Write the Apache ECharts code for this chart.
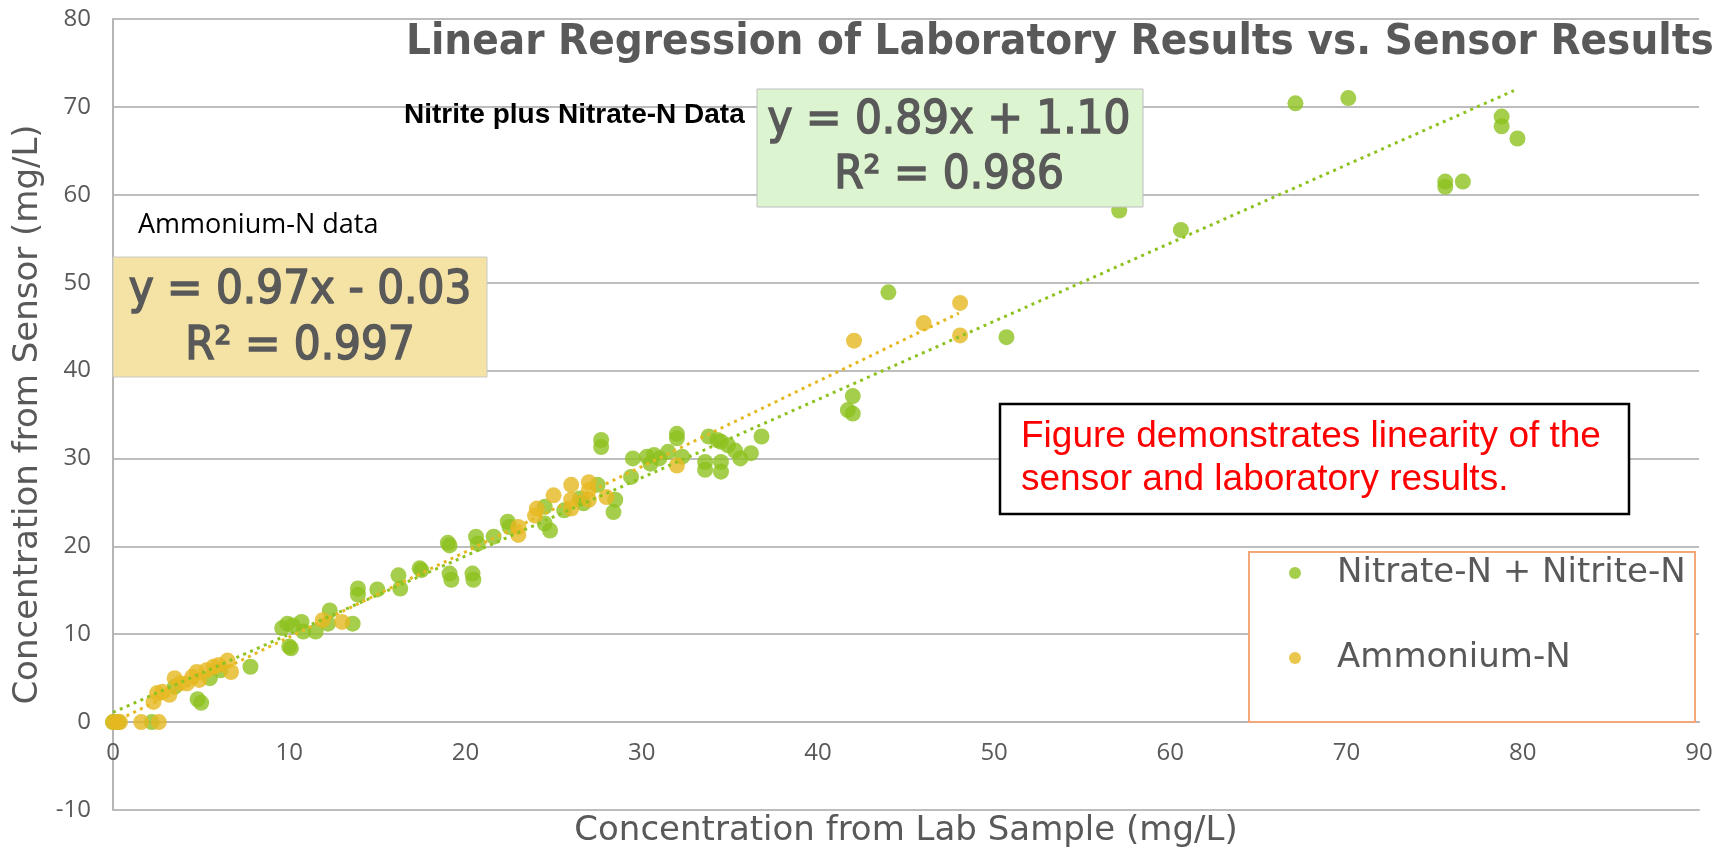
<!DOCTYPE html>
<html>
<head>
<meta charset="utf-8">
<script src="https://cdn.jsdelivr.net/npm/echarts/dist/echarts.min.js"></script>
<style>
html,body{margin:0;padding:0;background:#ffffff;}
#chart{width:1733px;height:855px;}
</style>
</head>
<body>
<div id="chart"></div>
<script>
// ---- data ----
const seriesNames = ['Nitrate-N + Nitrite-N', 'Ammonium-N'];
const xTickValues = [0, 10, 20, 30, 40, 50, 60, 70, 80, 90];
const yTickValues = [-10, 0, 10, 20, 30, 40, 50, 60, 70, 80];

const nitratePoints = [
  [0, 0], [0.3, 0], [2.2, 0],
  [4.8, 2.6], [5.0, 2.2], [3.5, 4.0], [5.5, 5.0], [6.1, 5.9], [7.8, 6.3],
  [9.6, 10.7], [9.9, 11.2], [10.2, 11.0], [10.7, 11.4], [10.8, 10.3], [11.5, 10.3],
  [10.0, 8.6], [10.1, 8.4], [12.3, 12.7], [12.2, 11.2], [13.6, 11.2],
  [13.9, 15.2], [13.9, 14.5], [15.0, 15.1], [16.2, 16.7], [16.3, 15.2], [17.4, 17.5], [17.5, 17.3],
  [19.0, 20.4], [19.1, 20.1], [19.1, 16.9], [19.2, 16.2], [20.4, 16.9], [20.45, 16.2],
  [20.6, 21.1], [20.7, 20.3], [21.6, 21.1],
  [22.4, 22.8], [22.5, 22.2], [24.5, 24.5], [24.5, 22.6], [24.8, 21.8], [25.6, 24.1],
  [26.5, 25.45], [26.7, 24.9], [27.5, 27.0], [28.5, 25.3], [28.4, 23.9],
  [27.7, 32.1], [27.7, 31.3], [29.5, 30.0], [29.4, 27.9], [30.3, 30.2], [30.7, 30.4], [30.5, 29.4],
  [31.0, 30.0], [31.5, 30.75], [32.0, 32.8], [32.0, 32.3], [32.3, 30.2],
  [33.6, 29.6], [33.6, 28.7], [33.8, 32.5], [34.3, 32.1], [34.5, 31.9], [34.5, 29.6], [34.5, 28.5],
  [34.9, 31.5], [35.3, 30.9], [35.6, 30.0], [36.2, 30.6], [36.8, 32.5],
  [41.7, 35.5], [41.98, 35.1], [41.98, 37.1], [44.0, 48.9], [50.7, 43.8],
  [57.1, 58.2], [60.6, 56.0], [67.1, 70.4], [70.1, 71.0],
  [75.6, 61.5], [75.6, 60.9], [76.6, 61.5], [78.8, 68.9], [78.8, 67.8], [79.7, 66.4]
];

const ammoniumPoints = [
  [0, 0], [0.2, 0], [0.4, 0], [1.6, 0], [2.6, 0],
  [2.3, 2.3], [2.5, 3.3], [2.8, 3.45], [3.2, 3.1], [3.5, 5.0], [3.8, 4.4], [4.2, 4.4],
  [4.5, 5.15], [4.75, 5.7], [4.9, 4.8], [5.3, 5.9], [5.7, 6.3], [6.0, 6.5], [6.5, 7.0], [6.7, 5.7],
  [11.9, 11.6], [13.0, 11.4],
  [23.0, 22.2], [23.0, 21.3], [24.05, 24.3], [23.95, 23.5], [25.0, 25.8],
  [26.0, 27.0], [26.0, 25.3], [26.0, 24.3], [27.0, 27.3], [27.0, 26.4], [27.0, 25.3], [28.0, 25.6],
  [32.0, 29.2],
  [42.05, 43.4], [46.0, 45.4], [48.07, 47.7], [48.07, 44.0]
];

// trendline end points as drawn in the picture
const nitrateTrend = [[0, 1.10], [79.5, 71.86]];
const ammoniumTrend = [[0, -0.03], [48, 46.53]];

const nitrateLabel = ['y = 0.89x + 1.10', 'R\u00B2 = 0.986'];
const ammoniumLabel = ['y = 0.97x - 0.03', 'R\u00B2 = 0.997'];

// ---- chart ----
const GREEN = '#8dc21f';
const YELLOW = '#e6b820';
const GREY_TEXT = '#595959';
const GRID_COL = '#bdbdbd';
const AXIS_COL = '#b5b5b5';
const COND = '"DejaVu Sans Condensed", "DejaVu Sans", sans-serif';

const GRID_TOP = 19, GRID_BOTTOM = 45, CHART_H = 855;
// x axis crosses the y axis at 0 (one interval above the bottom of the plot)
const xAxisOffset = -(CHART_H - GRID_TOP - GRID_BOTTOM) / (yTickValues.length - 1);

const chart = echarts.init(document.getElementById('chart'), null, {renderer: 'canvas'});

const eqFont = '47px ' + COND;
const eqStroke = 1.5;

const option = {
  backgroundColor: '#ffffff',
  animation: false,
  title: {
    text: 'Linear Regression of Laboratory Results vs. Sensor Results',
    left: 406, top: 18, padding: 0,
    textStyle: {fontFamily: COND, fontWeight: 'bold', fontSize: 43.5, color: GREY_TEXT, lineHeight: 50}
  },
  grid: {left: 113, right: 34, top: GRID_TOP, bottom: GRID_BOTTOM, containLabel: false, outerBoundsMode: 'none'},
  legend: {
    orient: 'vertical',
    left: 1289, top: 553,
    z: 10,
    data: seriesNames,
    icon: 'circle',
    itemWidth: 12, itemHeight: 12,
    itemGap: 45,
    padding: 0,
    textStyle: {fontFamily: '"DejaVu Sans", sans-serif', fontSize: 34, color: GREY_TEXT, lineHeight: 40, padding: [0, 0, 0, 31]}
  },
  xAxis: [
    {
      type: 'value', min: 0, max: 90, interval: 10,
      offset: xAxisOffset,
      name: 'Concentration from Lab Sample (mg/L)',
      nameLocation: 'middle', nameGap: 92,
      nameTextStyle: {fontFamily: '"DejaVu Sans", sans-serif', fontSize: 34, color: GREY_TEXT},
      axisLine: {show: true, onZero: false, lineStyle: {color: AXIS_COL, width: 2}},
      axisTick: {show: false},
      splitLine: {show: false},
      axisLabel: {
        margin: 19, fontFamily: '"Open Sans", sans-serif', fontSize: 24, color: GREY_TEXT,
        formatter: v => (xTickValues.indexOf(v) >= 0 ? String(v) : '')
      }
    },
    {
      // bottom border of the plot (gridline at y = -10)
      type: 'value', min: 0, max: 90, interval: 10, position: 'bottom',
      axisLine: {show: true, onZero: false, lineStyle: {color: GRID_COL, width: 2}},
      axisTick: {show: false}, axisLabel: {show: false}, splitLine: {show: false}
    }
  ],
  yAxis: {
    type: 'value', min: -10, max: 80, interval: 10,
    name: 'Concentration from Sensor (mg/L)',
    nameLocation: 'middle', nameGap: 66, nameRotate: 90,
    nameTextStyle: {fontFamily: '"DejaVu Sans", sans-serif', fontSize: 34, color: GREY_TEXT},
    axisLine: {show: true, onZero: false, lineStyle: {color: AXIS_COL, width: 2}},
    axisTick: {show: false},
    splitLine: {show: true, showMinLine: true, showMaxLine: true, lineStyle: {color: GRID_COL, width: 2}},
    axisLabel: {
      margin: 22, fontFamily: '"Open Sans", sans-serif', fontSize: 24, color: GREY_TEXT,
      formatter: v => (yTickValues.indexOf(v) >= 0 ? String(v) : '')
    }
  },
  series: [
    {
      name: seriesNames[0], type: 'scatter', data: nitratePoints,
      symbol: 'circle', symbolSize: 16, itemStyle: {color: GREEN}, z: 2
    },
    {
      name: seriesNames[1], type: 'scatter', data: ammoniumPoints,
      symbol: 'circle', symbolSize: 16, itemStyle: {color: YELLOW}, z: 2
    },
    {
      name: 'Nitrate trend', type: 'line', data: nitrateTrend, showSymbol: false, symbol: 'none',
      lineStyle: {color: GREEN, width: 3, type: [3, 4.5]}, z: 5, silent: true
    },
    {
      name: 'Ammonium trend', type: 'line', data: ammoniumTrend, showSymbol: false, symbol: 'none',
      lineStyle: {color: YELLOW, width: 3, type: [3, 4.5]}, z: 5, silent: true
    }
  ],
  graphic: [
    // annotation labels
    {type: 'text', z: 100, x: 404, y: 115,
      style: {text: 'Nitrite plus Nitrate-N Data', font: 'bold 28px "Liberation Sans", Arial, sans-serif', fill: '#000000', align: 'left', verticalAlign: 'middle'}},
    {type: 'text', z: 100, x: 138, y: 225,
      style: {text: 'Ammonium-N data', font: '27px "Open Sans", sans-serif', fill: '#000000', align: 'left', verticalAlign: 'middle'}},
    // green equation box
    {type: 'rect', z: 100, shape: {x: 757, y: 89, width: 386, height: 118},
      style: {fill: '#dcf4d0', stroke: '#bfbfbf', lineWidth: 1}},
    {type: 'text', z: 101, x: 949, y: 121,
      style: {text: nitrateLabel[0], font: eqFont, fill: GREY_TEXT, stroke: GREY_TEXT, lineWidth: eqStroke, align: 'center', verticalAlign: 'middle'}},
    {type: 'text', z: 101, x: 949, y: 176,
      style: {text: nitrateLabel[1], font: eqFont, fill: GREY_TEXT, stroke: GREY_TEXT, lineWidth: eqStroke, align: 'center', verticalAlign: 'middle'}},
    // yellow equation box
    {type: 'rect', z: 100, shape: {x: 113, y: 257, width: 374, height: 120},
      style: {fill: '#f5e3a5', stroke: '#c8c8c8', lineWidth: 1}},
    {type: 'text', z: 101, x: 300, y: 291,
      style: {text: ammoniumLabel[0], font: eqFont, fill: GREY_TEXT, stroke: GREY_TEXT, lineWidth: eqStroke, align: 'center', verticalAlign: 'middle'}},
    {type: 'text', z: 101, x: 300, y: 347,
      style: {text: ammoniumLabel[1], font: eqFont, fill: GREY_TEXT, stroke: GREY_TEXT, lineWidth: eqStroke, align: 'center', verticalAlign: 'middle'}},
    // red note box
    {type: 'rect', z: 100, shape: {x: 1000, y: 404, width: 629, height: 110},
      style: {fill: '#ffffff', stroke: '#000000', lineWidth: 2.5}},
    {type: 'text', z: 101, x: 1021, y: 437,
      style: {text: 'Figure demonstrates linearity of the', font: '37px "Liberation Sans", Arial, sans-serif', fill: '#ff0000', align: 'left', verticalAlign: 'middle'}},
    {type: 'text', z: 101, x: 1021, y: 480,
      style: {text: 'sensor and laboratory results.', font: '37px "Liberation Sans", Arial, sans-serif', fill: '#ff0000', align: 'left', verticalAlign: 'middle'}},
    // legend frame
    {type: 'rect', z: 3, shape: {x: 1249, y: 552, width: 446, height: 170},
      style: {fill: '#ffffff', stroke: '#f4a878', lineWidth: 2}}
  ]
};

chart.setOption(option);
</script>
</body>
</html>
